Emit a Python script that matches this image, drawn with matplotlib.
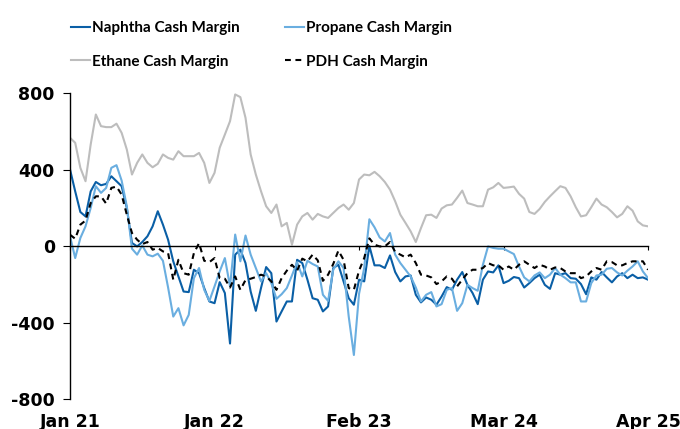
import matplotlib.pyplot as plt
import pandas as pd

plt.rcParams['axes.unicode_minus'] = False

# bi-weekly samples, Jan 2021 .. Apr 2025 (USD/t)
dates = pd.date_range('2021-01-01', periods=113, freq='14D')

naphtha = [
    400, 286, 178, 155, 286, 335, 318, 325, 365, 339, 313, 199, 16, -2,
    21, 51, 103, 182, 112, 33, -80, -159, -238, -241, -124, -142, -220, -290,
    -299, -189, -246, -510, -45, -19, -89, -238, -339, -220, -110, -142, -395, -342,
    -290, -290, -72, -89, -176, -273, -281, -342, -316, -115, -98, -185, -273, -307,
    -176, -185, 0, -101, -101, -115, -49, -136, -185, -159, -154, -255, -295, -269,
    -281, -307, -264, -215, -229, -176, -136, -203, -246, -304, -176, -133, -138, -101,
    -194, -182, -162, -168, -217, -194, -168, -150, -203, -224, -142, -150, -142, -168,
    -171, -199, -252, -164, -176, -136, -164, -190, -159, -142, -168, -150, -168, -164,
    -176,
]
propane = [
    51, -63, 42, 103, 199, 313, 278, 304, 409, 423, 342, 208, -14, -45,
    3, -45, -54, -40, -77, -217, -369, -325, -415, -360, -168, -115, -229, -287,
    -211, -133, -63, -211, 60, -80, 55, -45, -115, -185, -142, -194, -276, -252,
    -220, -154, -84, -159, -77, -94, -107, -255, -287, -124, -80, -115, -369, -570,
    -250, -115, 140, 98, 45, 24, 68, -45, -89, -124, -159, -217, -290, -255,
    -241, -316, -304, -229, -220, -339, -299, -203, -220, -234, -98, -2, -10, -14,
    -14, -28, -42, -107, -164, -185, -154, -138, -168, -150, -115, -150, -168, -190,
    -190, -290, -290, -194, -154, -150, -119, -115, -138, -154, -129, -107, -80, -133,
    -168,
]
ethane = [
    566, 540, 409, 339, 531, 688, 627, 622, 622, 640, 592, 505, 374, 435,
    479, 435, 412, 430, 479, 461, 452, 496, 470, 470, 470, 487, 435, 330,
    383, 514, 583, 653, 793, 779, 671, 479, 374, 287, 208, 173, 217, 103,
    121, 7, 112, 155, 173, 138, 168, 155, 147, 173, 199, 217, 190, 225,
    348, 374, 370, 388, 365, 335, 295, 234, 164, 121, 77, 21, 94, 161,
    164, 147, 196, 213, 217, 252, 290, 225, 217, 208, 208, 295, 307, 330,
    304, 307, 311, 273, 248, 178, 168, 194, 231, 260, 287, 313, 304, 260,
    203, 155, 161, 203, 248, 217, 203, 178, 150, 168, 208, 185, 129, 108,
    103,
]
pdh = [
    59, 38, 112, 133, 225, 260, 260, 222, 304, 311, 269, 164, 68, 33,
    10, 21, -19, -10, -28, -37, -176, -72, -142, -150, -37, 15, -77, -84,
    -63, -168, -171, -217, -159, -229, -178, -171, -162, -150, -159, -185, -229, -168,
    -129, -98, -129, -66, -80, -45, -75, -182, -150, -94, -24, -72, -220, -229,
    -129, -63, 40, 7, -2, -2, 21, -31, -45, -59, -45, -89, -150, -154,
    -164, -199, -185, -159, -171, -211, -176, -142, -124, -124, -115, -89, -101, -101,
    -124, -107, -124, -98, -80, -98, -115, -98, -107, -124, -112, -115, -133, -142,
    -142, -168, -159, -133, -115, -124, -80, -84, -101, -101, -89, -80, -80, -80,
    -124,
]

yticks = [-800, -400, 0, 400, 800]
xticks = dates[::28]
xlabels = [d.strftime('%b %y') for d in xticks]

fig, ax = plt.subplots(figsize=(6.8, 4.29), dpi=100)
fig.subplots_adjust(left=0.103, right=0.953, top=0.783, bottom=0.070)

l_nap, = ax.plot(dates, naphtha, color='#0a5fa6', lw=1.5, label='Naphtha Cash Margin')
l_pro, = ax.plot(dates, propane, color='#6aaee0', lw=1.5, label='Propane Cash Margin')
l_eth, = ax.plot(dates, ethane, color='#bdbdbd', lw=1.5, label='Ethane Cash Margin')
l_pdh, = ax.plot(dates, pdh, color='black', lw=1.5, dashes=(2.8, 2.2), label='PDH Cash Margin')

ax.set_xlim(dates[0], dates[-1])
ax.set_ylim(-800, 800)

# x axis line sits at zero, labels stay at the bottom
for s in ['right', 'bottom']:
    ax.spines[s].set_visible(False)
ax.spines['top'].set_position(('data', 0))
ax.spines['top'].set_linewidth(1.0)
ax.spines['left'].set_linewidth(1.0)

ax.set_xticks(xticks)
ax.set_xticklabels(xlabels, fontsize=12.5, fontweight='bold', family='DejaVu Sans')
ax.tick_params(axis='x', top=True, bottom=False, labelbottom=True, labeltop=False,
               direction='in', length=3, pad=10)
ax.set_yticks(yticks)
ax.set_yticklabels([str(v) for v in yticks], fontsize=12.5, fontweight='bold',
                   family='DejaVu Sans')
ax.tick_params(axis='y', length=5, pad=6)

# legend fills column-wise, so order gives rows: Naphtha/Propane, Ethane/PDH
fig.legend([l_nap, l_eth, l_pro, l_pdh],
           [l.get_label() for l in (l_nap, l_eth, l_pro, l_pdh)],
           loc='upper left', bbox_to_anchor=(0.105, 0.950), ncol=2,
           frameon=False, borderpad=0, borderaxespad=0,
           handlelength=1.25, handletextpad=0.13, columnspacing=2.95,
           labelspacing=1.25,
           prop={'family': 'Lato', 'size': 11, 'weight': 'bold'})

fig.savefig('out.png', dpi=100)
